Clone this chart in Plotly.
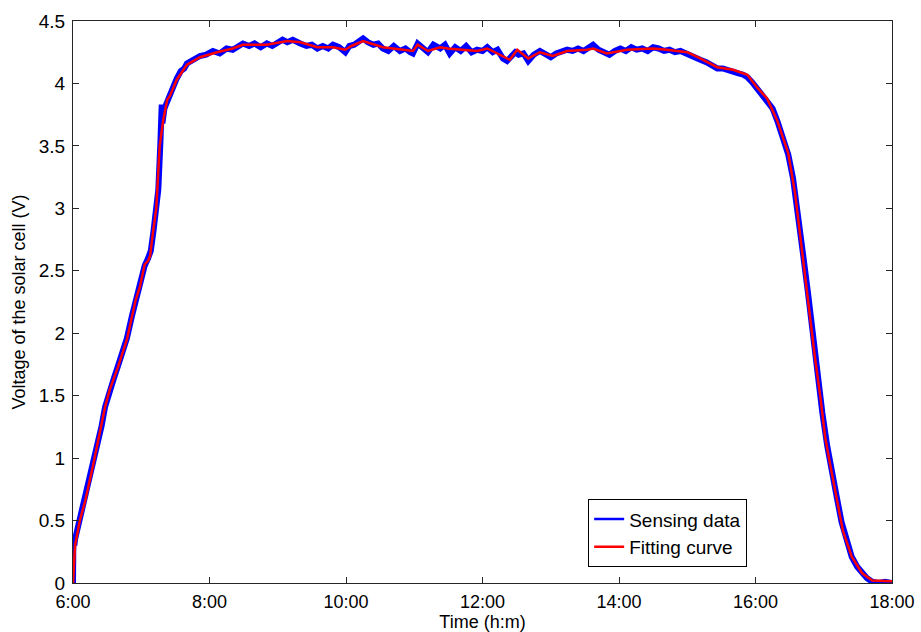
import plotly.graph_objects as go

# Time in hours (6.0 = 6:00)
fit_t = [6.00, 6.01, 6.03, 6.10, 6.18, 6.29, 6.37, 6.47, 6.54, 6.66, 6.79, 6.86, 6.92, 6.98, 6.99,
         7.05, 7.10, 7.13, 7.17, 7.22, 7.27, 7.32, 7.38, 7.42, 7.52, 7.67, 7.86, 8.11, 8.34, 8.49,
         8.84, 9.14, 9.33, 9.58, 9.81, 9.99, 10.08, 10.25, 10.54, 10.79, 10.98, 11.05, 11.20, 11.38,
         11.49, 11.70, 11.92, 12.07, 12.26, 12.40, 12.51, 12.67, 12.84, 13.03, 13.24, 13.53, 13.62,
         13.82, 14.12, 14.50, 14.70, 15.00, 15.19, 15.44, 15.67, 15.88, 16.02, 16.17, 16.32, 16.48,
         16.58, 16.65, 16.73, 16.80, 16.87, 16.95, 17.02, 17.09, 17.19, 17.28, 17.41, 17.56, 17.71, 18.00]
fit_v = [0.00, 0.15, 0.30, 0.50, 0.66, 0.93, 1.14, 1.41, 1.55, 1.73, 1.95, 2.13, 2.27, 2.37, 2.40,
         2.55, 2.58, 2.62, 2.80, 3.00, 3.50, 3.70, 3.87, 3.90, 4.03, 4.15, 4.21, 4.25, 4.28, 4.31,
         4.31, 4.34, 4.33, 4.29, 4.29, 4.27, 4.30, 4.34, 4.29, 4.27, 4.26, 4.31, 4.26, 4.29,
         4.28, 4.27, 4.26, 4.28, 4.23, 4.19, 4.27, 4.20, 4.25, 4.22, 4.26, 4.27, 4.28,
         4.24, 4.27, 4.28, 4.27, 4.25, 4.20, 4.13, 4.11, 4.07, 3.97, 3.88, 3.70, 3.44,
         3.12, 2.80, 2.48, 2.16, 1.81, 1.49, 1.17, 0.96, 0.69, 0.42, 0.21, 0.08, 0.02, 0.015]

sense_t = [6.00, 6.005, 6.015, 6.02, 6.03, 6.06, 6.10, 6.14, 6.18, 6.23, 6.29, 6.33, 6.37, 6.42, 6.47,
           6.54, 6.60, 6.66, 6.72, 6.79, 6.86, 6.92, 6.97, 7.00, 7.05, 7.10, 7.14, 7.18, 7.22, 7.25,
           7.28, 7.30, 7.31, 7.34, 7.38, 7.42, 7.47, 7.52, 7.58, 7.63, 7.67, 7.75, 7.86, 7.95, 8.05,
           8.15, 8.25, 8.34, 8.42, 8.49, 8.58, 8.66, 8.75, 8.84, 8.92, 9.00, 9.07, 9.14, 9.22, 9.33,
           9.42, 9.50, 9.58, 9.66, 9.74, 9.81, 9.90, 9.99, 10.05, 10.12, 10.20, 10.25, 10.32, 10.40,
           10.47, 10.54, 10.62, 10.70, 10.79, 10.87, 10.94, 10.98, 11.05, 11.12, 11.20, 11.28, 11.38,
           11.45, 11.52, 11.60, 11.68, 11.76, 11.84, 11.92, 12.00, 12.07, 12.15, 12.22, 12.30, 12.36,
           12.42, 12.48, 12.53, 12.60, 12.67, 12.75, 12.84, 12.92, 13.00, 13.08, 13.16, 13.24, 13.32,
           13.40, 13.48, 13.56, 13.62, 13.70, 13.78, 13.86, 13.94, 14.02, 14.10, 14.18, 14.26, 14.34,
           14.42, 14.50, 14.58, 14.66, 14.74, 14.82, 14.90, 15.00, 15.10, 15.19, 15.28, 15.36, 15.44,
           15.52, 15.60, 15.67, 15.75, 15.82, 15.88, 15.95, 16.02, 16.10, 16.17, 16.25, 16.32, 16.40,
           16.48, 16.55, 16.62, 16.70, 16.77, 16.84, 16.91, 16.98, 17.05, 17.12, 17.19, 17.26, 17.33,
           17.41, 17.49, 17.56, 17.63, 17.71, 17.80, 17.90, 18.00]
sense_v = [0.00, 0.33, 0.08, 0.30, 0.35, 0.42, 0.50, 0.58, 0.66, 0.78, 0.93, 1.03, 1.14, 1.26, 1.41,
           1.55, 1.64, 1.74, 1.84, 1.96, 2.13, 2.26, 2.38, 2.43, 2.54, 2.60, 2.66, 2.82, 3.02, 3.15,
           3.52, 3.83, 3.68, 3.80, 3.86, 3.92, 3.99, 4.04, 4.10, 4.12, 4.16, 4.19, 4.22, 4.23, 4.26,
           4.24, 4.28, 4.27, 4.30, 4.32, 4.30, 4.32, 4.29, 4.32, 4.30, 4.33, 4.35, 4.33, 4.35, 4.32,
           4.30, 4.31, 4.28, 4.30, 4.28, 4.31, 4.29, 4.25, 4.30, 4.31, 4.35, 4.36, 4.33, 4.31,
           4.32, 4.28, 4.26, 4.30, 4.26, 4.28, 4.25, 4.24, 4.32, 4.28, 4.25, 4.31, 4.28,
           4.31, 4.24, 4.29, 4.26, 4.30, 4.25, 4.27, 4.26, 4.29, 4.25, 4.27, 4.20, 4.18,
           4.22, 4.25, 4.23, 4.24, 4.18, 4.23, 4.26, 4.24, 4.21, 4.24, 4.25, 4.27, 4.26,
           4.28, 4.26, 4.29, 4.31, 4.27, 4.25, 4.23, 4.26, 4.28, 4.26, 4.29, 4.27, 4.28,
           4.26, 4.29, 4.28, 4.26, 4.27, 4.25, 4.26, 4.24, 4.22, 4.19, 4.17, 4.14, 4.12,
           4.12, 4.11, 4.09, 4.08, 4.07, 4.05, 4.01, 3.96, 3.92, 3.87, 3.80, 3.70, 3.58,
           3.43, 3.24, 2.98, 2.62, 2.32, 1.97, 1.66, 1.36, 1.10, 0.87, 0.69, 0.49, 0.34,
           0.21, 0.13, 0.08, 0.04, 0.01, 0.00, 0.01, 0.00]

x_tick_vals = [6, 8, 10, 12, 14, 16, 18]
x_tick_text = ["6:00", "8:00", "10:00", "12:00", "14:00", "16:00", "18:00"]
y_tick_vals = [0, 0.5, 1, 1.5, 2, 2.5, 3, 3.5, 4, 4.5]
y_tick_text = ["0", "0.5", "1", "1.5", "2", "2.5", "3", "3.5", "4", "4.5"]

FONT = "Liberation Sans, Arial, sans-serif"
BLUE = "#0000ff"
RED = "#ff0000"

fig = go.Figure()
# sensing data band (thick line imitating the dense noisy samples)
fig.add_trace(go.Scatter(x=sense_t, y=sense_v, mode="lines", name="Sensing data",
                         legendgroup="s", showlegend=False,
                         line=dict(color=BLUE, width=6)))
# legend entry for the sensing data with a thin line, as in the original legend
fig.add_trace(go.Scatter(x=[None], y=[None], mode="lines", name="Sensing data",
                         legendgroup="s", showlegend=True,
                         line=dict(color=BLUE, width=2.5)))
fig.add_trace(go.Scatter(x=fit_t, y=fit_v, mode="lines", name="Fitting curve",
                         line=dict(color=RED, width=2.5)))

axis_common = dict(showline=True, linecolor="#262626", linewidth=1, mirror="allticks",
                   ticks="inside", ticklen=6, tickcolor="#262626", showgrid=False, zeroline=False,
                   automargin=False)

fig.update_layout(
    width=921, height=632,
    margin=dict(l=73, r=29, t=21, b=49, autoexpand=False),
    paper_bgcolor="white", plot_bgcolor="white",
    font=dict(family=FONT, size=19, color="black"),
    xaxis=dict(range=[6, 18], tickvals=x_tick_vals, ticktext=x_tick_text,
               ticklabelstandoff=2,
               tickfont=dict(family=FONT, size=18, color="black"),
               title=dict(text="Time (h:m)", font=dict(family=FONT, size=18), standoff=1),
               **axis_common),
    yaxis=dict(range=[0, 4.5], tickvals=y_tick_vals, ticktext=y_tick_text,
               ticklabelstandoff=3,
               tickfont=dict(family=FONT, size=19, color="black"),
               title=dict(text="Voltage of the solar cell (V)", font=dict(family=FONT, size=18), standoff=8),
               **axis_common),
    legend=dict(x=0.629, y=0.149, xanchor="left", yanchor="top",
                bordercolor="black", borderwidth=1, bgcolor="white",
                font=dict(family=FONT, size=19), tracegroupgap=0),
    showlegend=True,
)

# remove the browser's default page margin so the figure sits at the window's corner
fig.write_html("out.html", config={"displayModeBar": False},
               post_script="document.body.style.margin='0';document.body.style.overflow='hidden';")
